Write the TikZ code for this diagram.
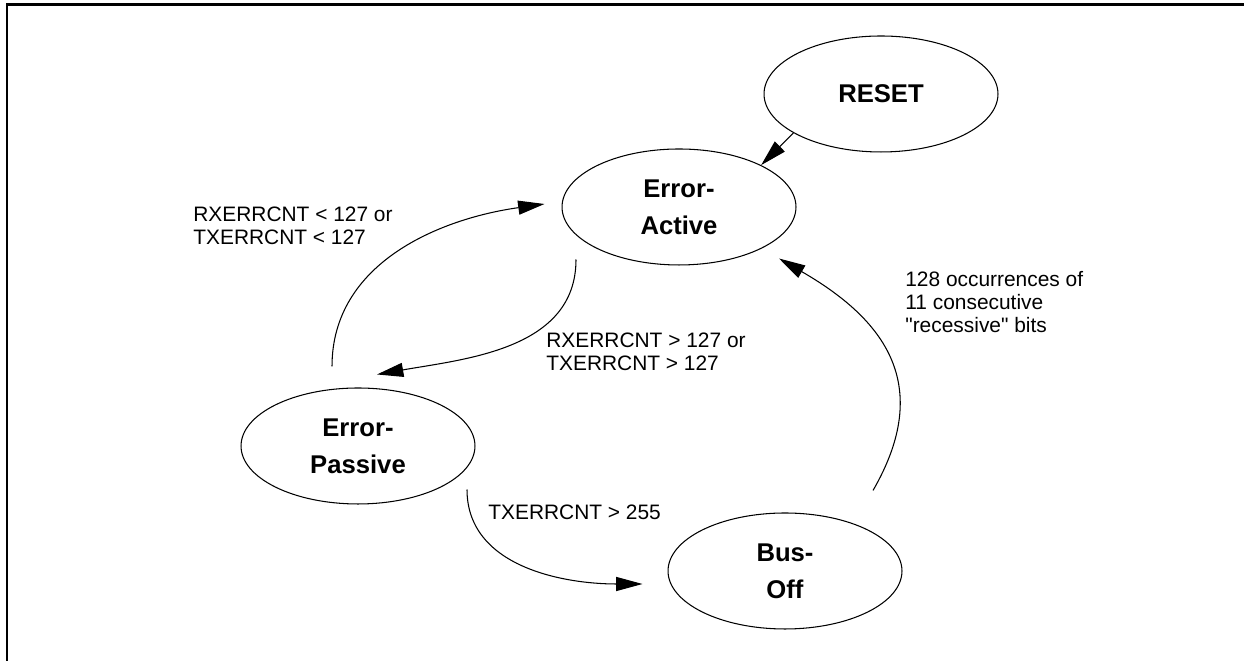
\documentclass[tikz,border=0pt]{standalone}
\usepackage{fontspec}
\setmainfont{Liberation Sans}
\usetikzlibrary{shapes.geometric, arrows.meta, calc}
\tikzset{
	state/.style={ellipse, draw, line width=0.6pt,
		minimum width=4.68cm, minimum height=2.32cm, inner sep=0pt,
		align=center, font=\fontsize{14.6}{21}\selectfont\bfseries},
	cond/.style={inner sep=0pt, align=left,
		font=\fontsize{11.9}{13.2}\selectfont},
	myarrow/.style={-{Triangle[length=15pt, width=8pt]}, line width=0.6pt},
	frameline/.style={line width=1.2pt}
}

\begin{document}
\begin{tikzpicture}[x=0.02cm, y=0.02cm]
	\useasboundingbox (0,0) rectangle (1244,661);
	
	%% frame (top and left edge only)
	\coordinate (ftop) at (1244,656.5);
	\coordinate (fbot) at (7,0);
	\draw[frameline] (ftop) -| (fbot);
	
	%% states
	\node[state] (reset) at (881,567) {RESET};
	\node[state] (active) at (679,454) {Error-\\Active};
	\node[state] (passive) at (358,215) {Error-\\Passive};
	\node[state] (busoff) at (785,90) {Bus-\\Off};
	
	%% RESET -> Error-Active
	\draw[myarrow] (reset.204) -- (active.27);
	
	%% Error-Passive -> Error-Active
	\coordinate (pa1) at ($(passive.north)+(-26,21)$);
	\coordinate (pa2) at ($(active.west)+(-17,3)$);
	\draw[myarrow] (pa1) to[out=90, in=188] (pa2);
	\node[cond, anchor=west] (lblrecover) at (193,435)
	{RXERRCNT < 127 or\\TXERRCNT < 127};
	
	%% Error-Active -> Error-Passive
	\coordinate (ap1) at ($(active.south)+(-103,6)$);
	\coordinate (ap2) at ($(passive.north)+(19,13)$);
	\draw[myarrow] (ap1) to[out=-90, in=10] (ap2);
	\node[cond, anchor=west] (lblpassive) at (546,309.5)
	{RXERRCNT > 127 or\\TXERRCNT > 127};
	
	%% Error-Passive -> Bus-Off
	\coordinate (pb1) at ($(passive.south)+(109,15)$);
	\coordinate (pb2) at ($(busoff.west)+(-25,-13)$);
	\draw[myarrow] (pb1) to[out=-90, in=180] (pb2);
	\node[cond, anchor=west] (lblbusoff) at (488,149) {TXERRCNT > 255};
	
	%% Bus-Off -> Error-Active
	\coordinate (ba1) at ($(busoff.north)+(88,22)$);
	\coordinate (ba2) at ($(active.south)+(100,7)$);
	\draw[myarrow] (ba1) to[out=60, in=-30, looseness=1.25] (ba2);
	\node[cond, anchor=west] (lblrecessive) at (905,359)
	{128 occurrences of\\11 consecutive\\\textquotedbl recessive\textquotedbl\ bits};
	
\end{tikzpicture}
\end{document}
